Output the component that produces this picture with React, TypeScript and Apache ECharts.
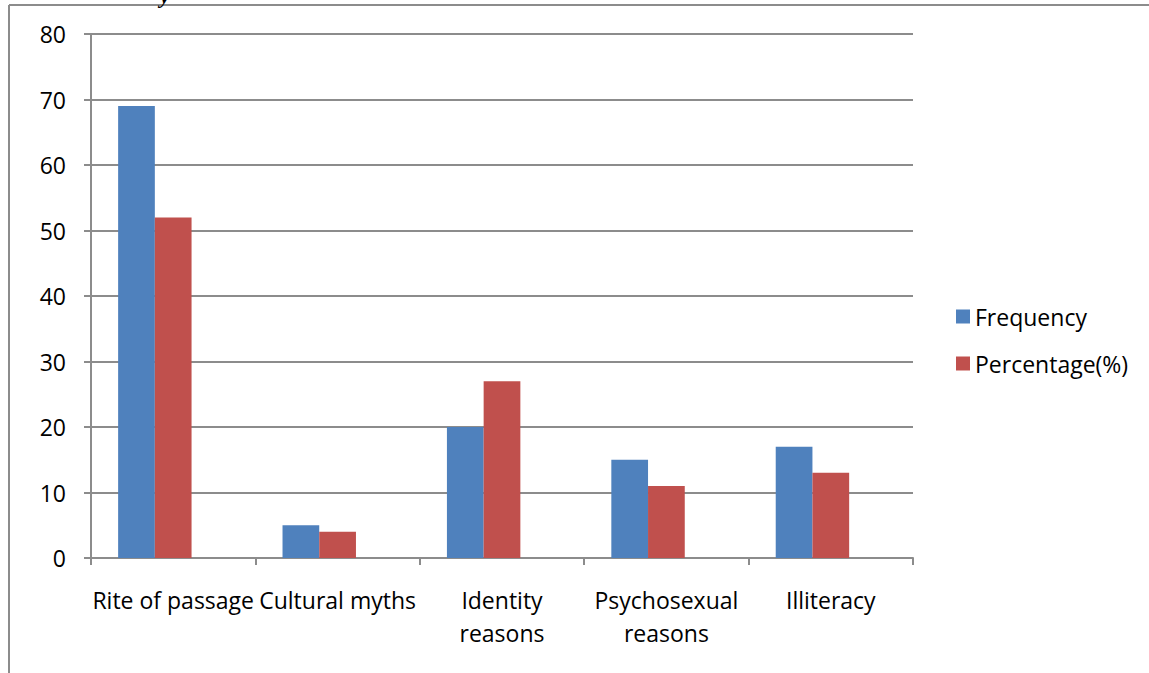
import React, { useEffect, useRef } from "react";
import * as echarts from "echarts";

const categories = [
  "Rite of passage",
  "Cultural myths",
  "Identity\nreasons",
  "Psychosexual\nreasons",
  "Illiteracy",
];
const frequency = [69, 5, 20, 15, 17];
const percentage = [52, 4, 27, 11, 13];
const emptySeries = [null, null, null, null, null];
const seriesNames = ["Frequency", "Percentage(%)"];

const FONT = "'Open Sans', 'Noto Sans', sans-serif";

export default function App() {
  const ref = useRef<HTMLDivElement>(null);
  useEffect(() => {
    const chart = echarts.init(ref.current!, null, { renderer: "svg" });
    chart.setOption({
      animation: false,
      backgroundColor: "#ffffff",
      grid: { left: 91, right: 236, top: 34, bottom: 115 },
      legend: {
        orient: "vertical",
        left: 951,
        top: 300,
        itemWidth: 14,
        itemHeight: 14,
        itemGap: 24,
        icon: "rect",
        textStyle: { fontFamily: FONT, fontSize: 23, color: "#000" },
        data: seriesNames,
      },
      xAxis: {
        type: "category",
        data: categories,
        axisLine: { lineStyle: { color: "#8c8c8c", width: 2 } },
        axisTick: { show: true, length: 7, lineStyle: { color: "#8c8c8c", width: 2 } },
        axisLabel: {
          interval: 0,
          margin: 25,
          fontFamily: FONT,
          fontSize: 23,
          color: "#000",
          lineHeight: 33,
        },
      },
      yAxis: {
        type: "value",
        min: 0,
        max: 80,
        interval: 10,
        axisLine: { show: true, lineStyle: { color: "#8c8c8c", width: 2 } },
        axisTick: { show: true, length: 7, lineStyle: { color: "#8c8c8c", width: 2 } },
        splitLine: { lineStyle: { color: "#8c8c8c", width: 2 } },
        axisLabel: { margin: 25, fontFamily: FONT, fontSize: 23, color: "#000" },
      },
      series: [
        {
          name: seriesNames[0],
          type: "bar",
          data: frequency,
          itemStyle: { color: "#4F81BD" },
          barGap: "0%",
          barCategoryGap: "33%",
        },
        {
          name: seriesNames[1],
          type: "bar",
          data: percentage,
          itemStyle: { color: "#C0504D" },
          barGap: "0%",
          barCategoryGap: "33%",
        },
        {
          name: "_empty",
          type: "bar",
          data: emptySeries,
          itemStyle: { color: "transparent" },
          barGap: "0%",
          barCategoryGap: "33%",
        },
      ],
      graphic: [
        { type: "line", shape: { x1: 9, y1: 5, x2: 1149, y2: 5 }, style: { stroke: "#8c8c8c", lineWidth: 2 } },
        { type: "line", shape: { x1: 9, y1: 5, x2: 9, y2: 673 }, style: { stroke: "#8c8c8c", lineWidth: 2 } },
        {
          type: "text",
          x: 160,
          y: -16,
          style: { text: "y", font: "italic bold 22px 'Liberation Serif', serif", fill: "#000" },
        },
      ],
    });
    return () => chart.dispose();
  }, []);
  return (
    <div
      ref={ref}
      style={{ position: "fixed", left: 0, top: 0, width: 1149, height: 673 }}
    />
  );
}
